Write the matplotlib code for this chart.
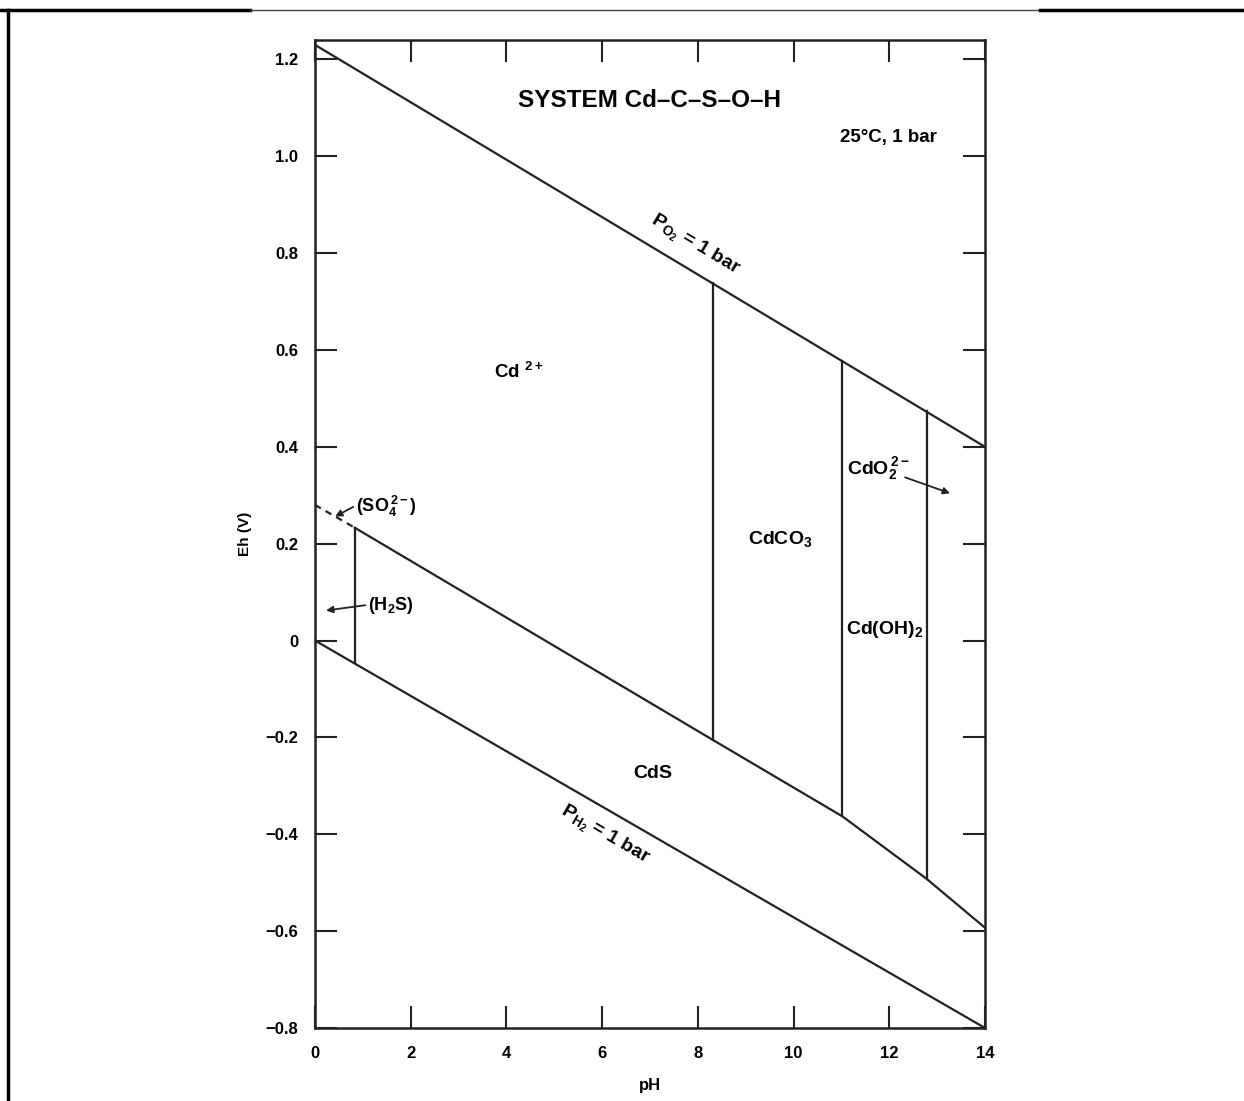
import numpy as np
import matplotlib
matplotlib.use('Agg')
import matplotlib.pyplot as plt
from matplotlib.lines import Line2D

plt.rcParams['font.family'] = ['Liberation Sans', 'DejaVu Sans']
plt.rcParams['font.weight'] = 'bold'
plt.rcParams['mathtext.fontset'] = 'custom'
plt.rcParams['mathtext.rm'] = 'Liberation Sans:bold'
plt.rcParams['mathtext.it'] = 'Liberation Sans:bold'
plt.rcParams['mathtext.bf'] = 'Liberation Sans:bold'
plt.rcParams['mathtext.sf'] = 'Liberation Sans:bold'

# water stability limits
ph_o2 = [0, 14]
eh_o2 = [1.23, 0.40]
ph_h2 = [0, 14]
eh_h2 = [0.0, -0.80]

# upper boundary of CdS field
cds_ph = [0.83, 8.31, 11.02, 12.78, 14.0]
cds_eh = [0.233, -0.205, -0.363, -0.492, -0.593]

# dashed SO4/H2S boundary
so4_ph = [0, 0.83]
so4_eh = [0.28, 0.233]

# vertical boundaries
vert_ph = [0.83, 8.31, 11.02, 12.78]
vert_top = [0.233, 0.738, 0.578, 0.473]
vert_bot = [-0.047, -0.205, -0.363, -0.492]

xticks = [0, 2, 4, 6, 8, 10, 12, 14]
yticks = [-0.8, -0.6, -0.4, -0.2, 0, 0.2, 0.4, 0.6, 0.8, 1.0, 1.2]
ylabels = ['\u22120.8', '\u22120.6', '\u22120.4', '\u22120.2', '0',
           '0.2', '0.4', '0.6', '0.8', '1.0', '1.2']

ink = '#222222'
lw = 1.6

fig = plt.figure(figsize=(12.44, 11.01), dpi=100)
ax = fig.add_axes([315 / 1244, 1 - 1028 / 1101, 670 / 1244, 988 / 1101])

ax.plot(ph_o2, eh_o2, color=ink, lw=lw)
ax.plot(ph_h2, eh_h2, color=ink, lw=lw)
ax.plot(cds_ph, cds_eh, color=ink, lw=lw)
ax.plot(so4_ph, so4_eh, color=ink, lw=lw, ls=(0, (3, 2.5)))
for p, t, b in zip(vert_ph, vert_top, vert_bot):
    ax.plot([p, p], [b, t], color=ink, lw=lw)

ax.set_xlim(0, 14)
ax.set_ylim(-0.8, 1.24)
ax.set_xticks(xticks)
ax.set_xticklabels([str(v) for v in xticks], fontsize=12, fontweight='bold')
ax.set_yticks(yticks)
ax.set_yticklabels(ylabels, fontsize=12, fontweight='bold')
ax.tick_params(direction='in', length=16, width=1.5, color=ink,
               top=True, right=True, pad=13)
ax.tick_params(axis='y', pad=12)
for s in ax.spines.values():
    s.set_linewidth(1.8)
    s.set_color(ink)

ax.set_xlabel('pH', fontsize=12, fontweight='bold', labelpad=12)
ax.set_ylabel('Eh (V)', fontsize=11, fontweight='bold', labelpad=10)


def angle_of(px, py):
    a = ax.transData.transform((px[0], py[0]))
    b = ax.transData.transform((px[1], py[1]))
    return np.degrees(np.arctan2(b[1] - a[1], b[0] - a[0]))


ax.text(7.0, 1.116, 'SYSTEM Cd\u2013C\u2013S\u2013O\u2013H', fontsize=17.5,
        fontweight='bold', ha='center', va='center')
ax.text(10.97, 1.039, '25\u00b0C, 1 bar', fontsize=13.5, fontweight='bold',
        ha='left', va='center')

ax.text(7.94, 0.816, r'P$_{\mathregular{O_2}}$ = 1 bar', fontsize=14,
        rotation=angle_of(ph_o2, eh_o2), rotation_mode='anchor',
        ha='center', va='center')
ax.text(6.06, -0.403, r'P$_{\mathregular{H_2}}$ = 1 bar', fontsize=14,
        rotation=angle_of(ph_h2, eh_h2), rotation_mode='anchor',
        ha='center', va='center')

ax.text(3.74, 0.554, r'Cd $^{2+}$', fontsize=13.5, ha='left', va='center')
ax.text(9.05, 0.21, r'CdCO$_3$', fontsize=14, ha='left', va='center')
ax.text(11.12, 0.355, r'CdO$_2^{\,2-}$', fontsize=14, ha='left', va='center')
ax.text(11.1, 0.023, r'Cd(OH)$_2$', fontsize=14, ha='left', va='center')
ax.text(7.06, -0.275, 'CdS', fontsize=14, ha='center', va='center')
ax.text(0.85, 0.277, r'(SO$_4^{\,2-}$)', fontsize=13, ha='left', va='center')
ax.text(1.1, 0.072, r'(H$_2$S)', fontsize=13, ha='left', va='center')

arrow = dict(arrowstyle='-|>', color=ink, lw=1.3, mutation_scale=10,
             shrinkA=0, shrinkB=0)
ax.annotate('', xy=(13.27, 0.304), xytext=(12.33, 0.337), arrowprops=arrow)
ax.annotate('', xy=(0.42, 0.256), xytext=(0.8, 0.276), arrowprops=arrow)
ax.annotate('', xy=(0.23, 0.062), xytext=(1.05, 0.073), arrowprops=arrow)

# scan frame
fig.add_artist(Line2D([0, 250 / 1244], [1 - 10 / 1101] * 2, color='black',
                      lw=2.5, transform=fig.transFigure))
fig.add_artist(Line2D([250 / 1244, 1040 / 1244], [1 - 10 / 1101] * 2,
                      color='#444444', lw=1, transform=fig.transFigure))
fig.add_artist(Line2D([1040 / 1244, 1], [1 - 10 / 1101] * 2, color='black',
                      lw=2.5, transform=fig.transFigure))
fig.add_artist(Line2D([8 / 1244] * 2, [0, 1 - 10 / 1101], color='black',
                      lw=2.5, transform=fig.transFigure))

fig.savefig('out.png', dpi=100)
